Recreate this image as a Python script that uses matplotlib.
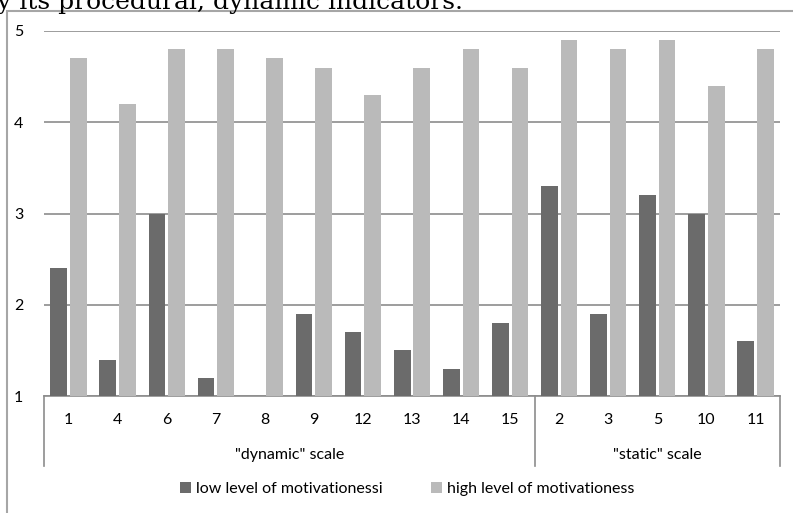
import numpy as np
import matplotlib.pyplot as plt
from matplotlib.patches import Rectangle
from matplotlib.transforms import blended_transform_factory

W, H = 793, 513

cats = ['1', '4', '6', '7', '8', '9', '12', '13', '14', '15', '2', '3', '5', '10', '11']
low = [2.4, 1.4, 3.0, 1.2, 1.0, 1.9, 1.7, 1.5, 1.3, 1.8, 3.3, 1.9, 3.2, 3.0, 1.6]
high = [4.7, 4.2, 4.8, 4.8, 4.7, 4.6, 4.3, 4.6, 4.8, 4.6, 4.9, 4.8, 4.9, 4.4, 4.8]
groups = ['"dynamic" scale', '"static" scale']
group_sizes = [10, 5]
series = ['low level of motivationessi', 'high level of motivationess']

plt.rcParams['font.family'] = ['Lato', 'DejaVu Sans']
fs = 11.5

fig = plt.figure(figsize=(W / 100, H / 100), dpi=100)

# chart frame (runs off the right and bottom of the picture)
fig.patches.append(Rectangle((7 / W, -0.1), 1.0, 1 - 11 / H + 0.1,
                             transform=fig.transFigure, fill=False,
                             edgecolor='#a6a6a6', lw=1.5))

# clipped caption above the chart
fig.text(-3 / W, 1 - 9 / H, 'y its procedural, dynamic indicators.',
         family='DejaVu Serif', fontsize=18, va='baseline', ha='left')

left, right, top, bottom = 44, 780, 31, 396
ax = fig.add_axes([left / W, 1 - bottom / H, (right - left) / W, (bottom - top) / H])

x = np.arange(len(cats))
bw = 0.34
ax.bar(x - 0.2, np.array(low) - 1, bw, bottom=1, color='#6b6b6b', label=series[0], zorder=3)
ax.bar(x + 0.2, np.array(high) - 1, bw, bottom=1, color='#bababa', label=series[1], zorder=3)

ax.set_xlim(-0.5, len(cats) - 0.5)
ax.set_ylim(1, 5)
ax.set_yticks([1, 2, 3, 4, 5])
ax.yaxis.grid(True, color='#8c8c8c', lw=1.2)
ax.set_axisbelow(True)
for s in ['top', 'right', 'left']:
    ax.spines[s].set_visible(False)
ax.spines['bottom'].set_color('#8c8c8c')
ax.spines['bottom'].set_linewidth(1.2)
ax.tick_params(axis='y', length=0, pad=15, labelsize=fs)
ax.set_xticks([])

tr = blended_transform_factory(ax.transData, ax.transAxes)
ah = bottom - top
for i, c in enumerate(cats):
    ax.text(i, -24 / ah, c, transform=tr, ha='center', va='center', fontsize=fs)

edges = np.concatenate([[0], np.cumsum(group_sizes)]) - 0.5
for e in edges:
    ax.plot([e, e], [0, -70 / ah], transform=tr, color='#8c8c8c', lw=1.2, clip_on=False)
for g, a, b in zip(groups, edges[:-1], edges[1:]):
    ax.text((a + b) / 2, -59 / ah, g, transform=tr, ha='center', va='center', fontsize=fs)

fig.legend(loc='center', bbox_to_anchor=(407 / W, 1 - 489 / H), ncol=2, frameon=False,
           fontsize=fs, handlelength=0.7, handleheight=0.7, handletextpad=0.3,
           columnspacing=3.0)

fig.savefig('out.png', dpi=100)
